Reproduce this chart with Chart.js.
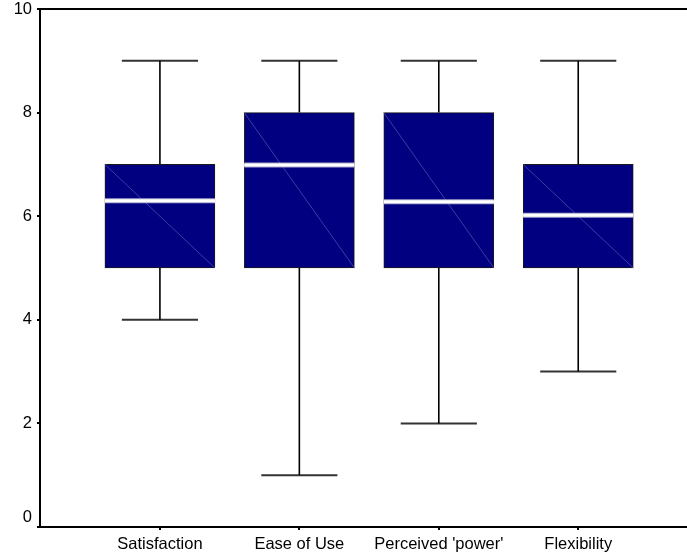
<!DOCTYPE html>
<html>
<head>
<meta charset="utf-8">
<script src="https://cdn.jsdelivr.net/npm/chart.js@4/dist/chart.umd.min.js"></script>
<style>
  html, body { margin: 0; padding: 0; background: #fff; }
  #wrap { width: 687px; height: 556px; }
</style>
</head>
<body>
<div id="wrap"><canvas id="c" width="687" height="556"></canvas></div>
<script>
// ---- data ----
const categories = ["Satisfaction", "Ease of Use", "Perceived 'power'", "Flexibility"];
const minVals    = [4, 1, 2, 3];
const q1Vals     = [5, 5, 5, 5];
const medianVals = [6.30, 6.99, 6.28, 6.02];
const q3Vals     = [7, 8, 8, 7];
const maxVals    = [9, 9, 9, 9];
const yTicks     = [0, 2, 4, 6, 8, 10];

// ---- styling constants (in x-axis units) ----
const BOX_HALF = 0.395;
const CAP_HALF = 0.273;
const X_MIN = 0.14, X_MAX = 4.78;

const pos = categories.map((c, i) => i + 1);
const GAP = { x: NaN, y: NaN };

const boxData = pos.map((x, i) => ({ x: x, y: [q1Vals[i], q3Vals[i]] }));

const whiskerData = [];
const capData = [];
const medianData = [];
const diagData = [];
pos.forEach((x, i) => {
  whiskerData.push({ x: x, y: minVals[i] }, { x: x, y: q1Vals[i] }, GAP,
                   { x: x, y: q3Vals[i] }, { x: x, y: maxVals[i] }, GAP);
  capData.push({ x: x - CAP_HALF, y: minVals[i] }, { x: x + CAP_HALF, y: minVals[i] }, GAP,
               { x: x - CAP_HALF, y: maxVals[i] }, { x: x + CAP_HALF, y: maxVals[i] }, GAP);
  medianData.push({ x: x - BOX_HALF, y: medianVals[i] }, { x: x + BOX_HALF, y: medianVals[i] }, GAP);
  diagData.push({ x: x - BOX_HALF, y: q3Vals[i] }, { x: x + BOX_HALF, y: q1Vals[i] }, GAP);
});

const lineBase = { type: 'line', pointRadius: 0, spanGaps: false, fill: false, tension: 0, xAxisID: 'x', yAxisID: 'y' };
const FONT = { family: "Arial, 'Liberation Sans', sans-serif", size: 16.5 };

new Chart(document.getElementById('c'), {
  data: {
    datasets: [
      Object.assign({}, lineBase, { data: medianData, borderColor: '#ffffff', borderWidth: 3, order: 1 }),
      Object.assign({}, lineBase, { data: medianData, borderColor: '#a8a8cc', borderWidth: 5, order: 2 }),
      Object.assign({}, lineBase, { data: diagData, borderColor: '#4b4bab', borderWidth: 0.8, order: 3 }),
      { type: 'bar', xAxisID: 'x', yAxisID: 'y', data: boxData, backgroundColor: '#000080', borderColor: '#1a1a1a',
        borderWidth: 1, borderSkipped: false, barThickness: 110, order: 4 },
      Object.assign({}, lineBase, { data: whiskerData, borderColor: '#000000', borderWidth: 1.6, order: 5 }),
      Object.assign({}, lineBase, { data: capData, borderColor: '#333333', borderWidth: 2, order: 6 })
    ]
  },
  options: {
    responsive: false,
    animation: false,
    events: [],
    layout: { padding: 0 },
    plugins: { legend: { display: false }, tooltip: { enabled: false } },
    scales: {
      x: {
        type: 'linear', position: 'bottom', min: X_MIN, max: X_MAX, offset: false,
        afterBuildTicks: s => { s.ticks = pos.map(v => ({ value: v })); },
        afterFit: s => { s.height = 29; s.paddingLeft = 0; s.paddingRight = 0; },
        ticks: { callback: v => categories[v - 1], color: '#000', font: FONT, padding: 5, maxRotation: 0, autoSkip: false },
        grid: { display: true, offset: false, drawOnChartArea: false, drawTicks: true, tickLength: 3, color: '#000', lineWidth: 2 },
        border: { display: true, color: '#000', width: 2 }
      },
      x2: {
        type: 'linear', position: 'top', min: X_MIN, max: X_MAX, offset: false,
        afterFit: s => { s.height = 9; s.paddingLeft = 0; s.paddingRight = 0; },
        ticks: { display: false },
        grid: { display: false, offset: false },
        border: { display: true, color: '#000', width: 2 }
      },
      y: {
        type: 'linear', min: 0, max: 10,
        afterBuildTicks: s => { s.ticks = yTicks.map(v => ({ value: v })); },
        afterFit: s => { s.width = 40; s.paddingTop = 0; s.paddingBottom = 0; },
        ticks: { color: '#000', font: FONT, padding: 5,
                 callback: v => (v === 0 ? ['0', ''] : String(v)) },
        grid: { display: true, drawOnChartArea: false, drawTicks: true, tickLength: 3, color: '#000', lineWidth: 2 },
        border: { display: true, color: '#000', width: 2 }
      }
    }
  }
});
</script>
</body>
</html>
